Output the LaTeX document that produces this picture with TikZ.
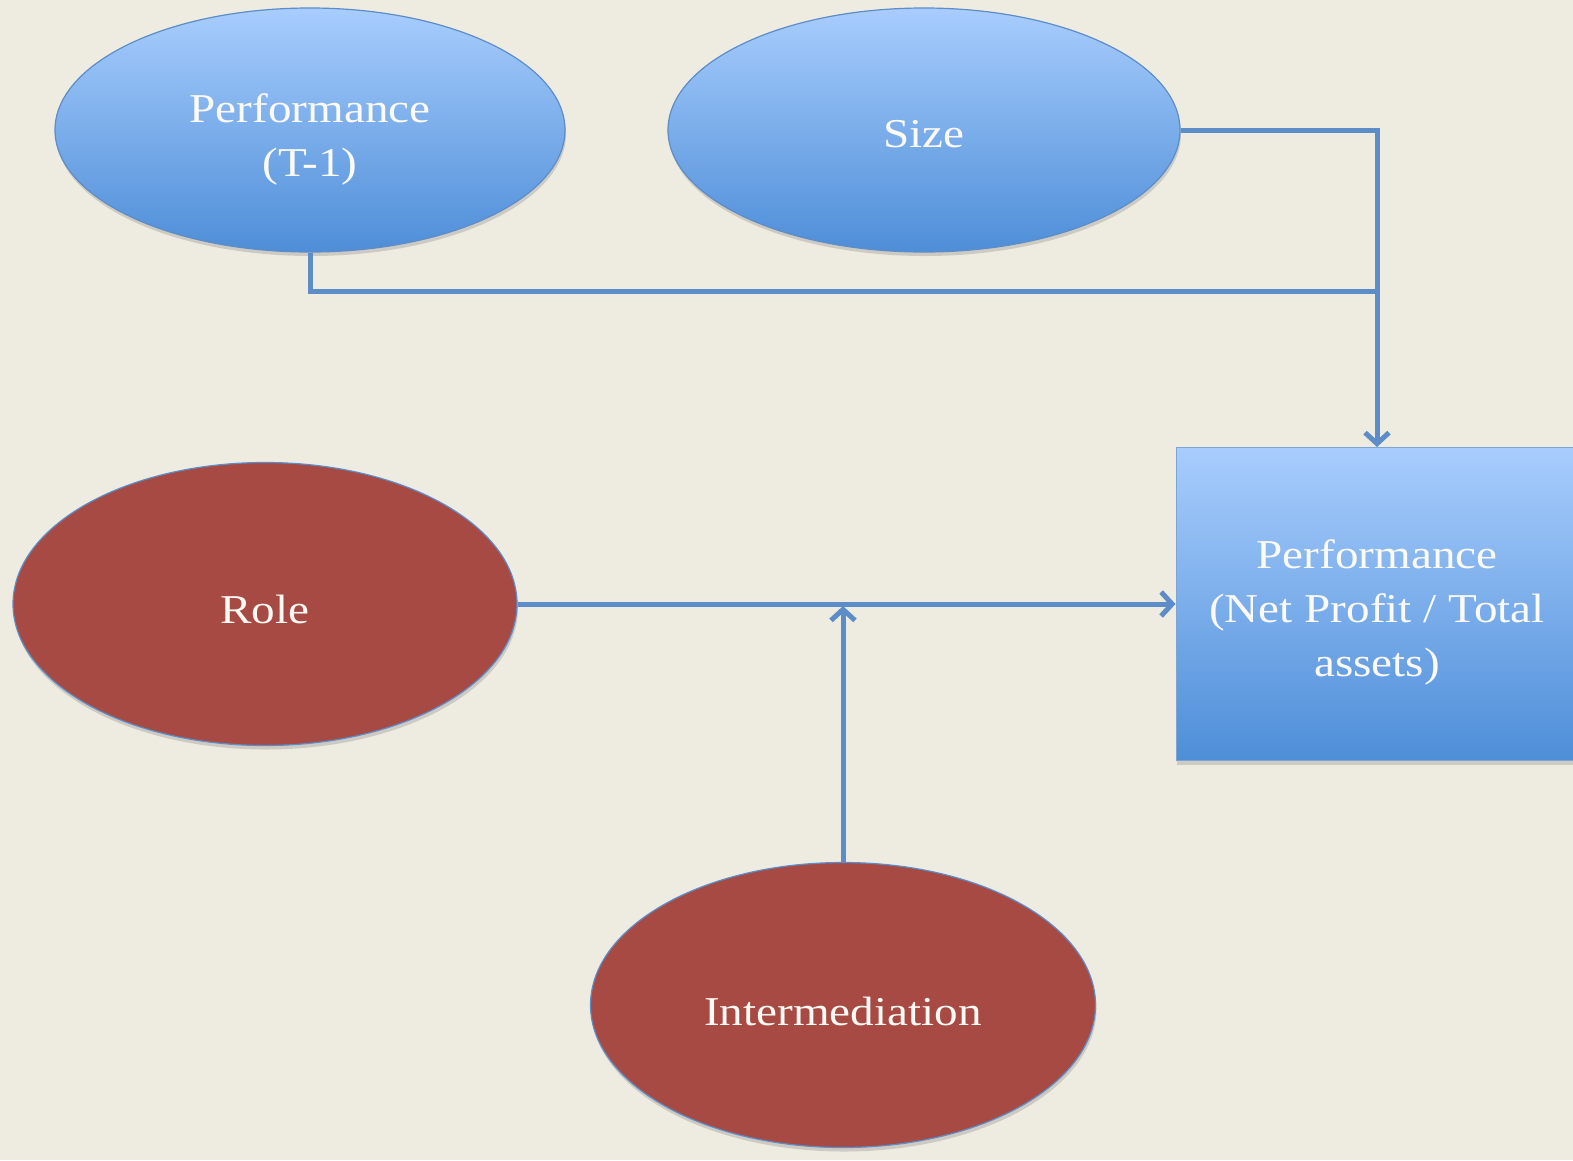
\documentclass[tikz,border=0pt]{standalone}
\usepackage{fontspec}
\setmainfont{Liberation Serif}[FakeStretch=1.15]
\usetikzlibrary{shapes.geometric,arrows.meta,shadows}
\definecolor{bgc}{RGB}{238,235,224}
\definecolor{linec}{RGB}{92,141,201}
\definecolor{bluetop}{RGB}{168,205,253}
\definecolor{bluebot}{RGB}{78,142,216}
\definecolor{redfill}{RGB}{167,74,67}
\definecolor{txt}{RGB}{252,250,244}
\tikzset{
  lbl/.style={text=txt, font=\fontsize{41}{54}\selectfont, align=center, inner sep=0pt},
  blueell/.style={ellipse, inner sep=0pt, draw=linec, line width=1.2pt,
    shading=axis, top color=bluetop, bottom color=bluebot,
    drop shadow={opacity=0.3, shadow xshift=1pt, shadow yshift=-4pt}},
  redell/.style={ellipse, inner sep=0pt, draw=linec, line width=1.2pt,
    fill=redfill,
    drop shadow={opacity=0.3, shadow xshift=1pt, shadow yshift=-4pt}},
  bluebox/.style={rectangle, inner sep=0pt, draw=linec!80, line width=1pt,
    shading=axis, top color=bluetop, bottom color=bluebot,
    drop shadow={opacity=0.3, shadow xshift=1pt, shadow yshift=-4pt}},
  conn/.style={draw=linec, line width=5pt, line join=miter},
  tip/.style={-{Straight Barb[length=11pt,width=24pt,line width=5pt]}}
}
\begin{document}
\begin{tikzpicture}[x=1pt,y=-1pt]
\fill[bgc] (0,0) rectangle (1573,1160);
\useasboundingbox (0,0) rectangle (1573,1160);
\clip (0,0) rectangle (1573,1160);

\node[blueell, minimum width=510pt, minimum height=244pt] (pt1) at (310,130) {};
\node[blueell, minimum width=512pt, minimum height=244pt] (size) at (924,130) {};
\node[redell, minimum width=504pt, minimum height=283pt] (role) at (265,604) {};
\node[redell, minimum width=505pt, minimum height=285pt] (inter) at (843,1005) {};
\node[bluebox, minimum width=402pt, minimum height=313pt] (perf) at (1377,604) {};

\node[lbl] (pt1t) at ([yshift=-9pt]pt1.center) {Performance\\(T-1)};
\node[lbl] (sizet) at ([yshift=-4pt]size.center) {Size};
\node[lbl] (rolet) at ([yshift=-5pt]role.center) {Role};
\node[lbl] (intert) at ([yshift=-6pt]inter.center) {Intermediation};
\node[lbl] (perft) at ([yshift=-8pt]perf.center) {Performance\\(Net Profit / Total\\assets)};

\coordinate (j) at (1377,291);
\coordinate (m) at (843,604);

\draw[conn] (pt1.south) |- (j);
\draw[conn] (size.east) -| (j);
\draw[conn, tip] (j) -- (perf.north);
\draw[conn, tip] (role.east) -- (perf.west);
\draw[conn, tip] (inter.north) -- ([yshift=-2pt]m);
\end{tikzpicture}
\end{document}
